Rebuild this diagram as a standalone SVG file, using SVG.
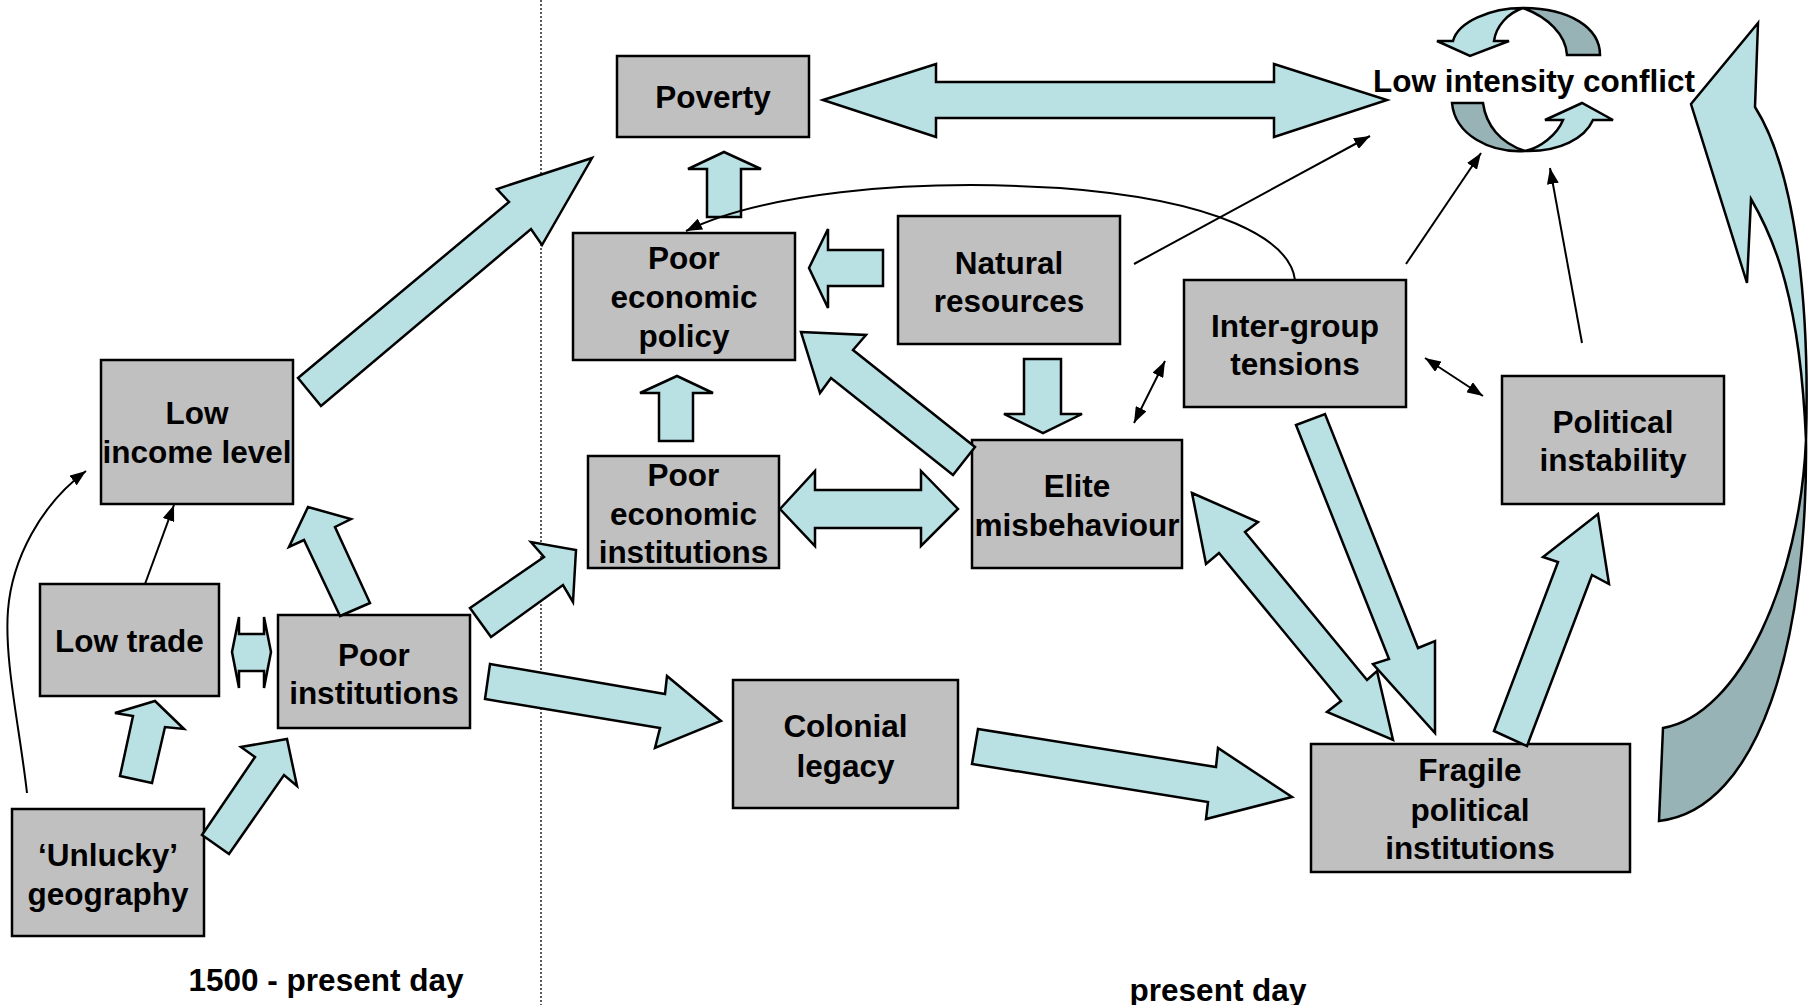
<svg xmlns="http://www.w3.org/2000/svg" width="1814" height="1005" viewBox="0 0 1814 1005">
<style>
.box{fill:#c0c0c0;stroke:#000;stroke-width:2.5}
.lbl{font-family:"Liberation Sans",Arial,Helvetica,sans-serif;font-weight:bold;font-size:31.5px;text-anchor:middle;fill:#000}
.blk{fill:#b9e0e3;stroke:#000;stroke-width:2.5;stroke-linejoin:miter}
.dk{fill:#97b3b6;stroke:#000;stroke-width:2.5;stroke-linejoin:miter}
.thin{fill:none;stroke:#000;stroke-width:2}
.sep{fill:none;stroke:#333;stroke-width:1.6;stroke-dasharray:2 2}
</style>
<defs>
<marker id="ah" viewBox="0 0 16 12" refX="16" refY="6" markerWidth="16" markerHeight="12" markerUnits="userSpaceOnUse" orient="auto-start-reverse">
<path d="M0,0 L16,6 L0,12 z" fill="#000"/>
</marker>
</defs>
<rect x="0" y="0" width="1814" height="1005" fill="#fff"/>
<line class="sep" x1="541" y1="0" x2="541" y2="1005"/>

<g id="nodes">
<g id="poverty"><rect class="box" x="617" y="56" width="192" height="81"/><text class="lbl" x="713" y="108">Poverty</text></g>
<g id="poor-economic-policy"><rect class="box" x="573" y="233" width="222" height="127"/><text class="lbl" x="684" y="269">Poor</text><text class="lbl" x="684" y="308">economic</text><text class="lbl" x="684" y="347">policy</text></g>
<g id="natural-resources"><rect class="box" x="898" y="216" width="222" height="128"/><text class="lbl" x="1009" y="274">Natural</text><text class="lbl" x="1009" y="312">resources</text></g>
<g id="inter-group-tensions"><rect class="box" x="1184" y="280" width="222" height="127"/><text class="lbl" x="1295" y="337">Inter-group</text><text class="lbl" x="1295" y="375">tensions</text></g>
<g id="political-instability"><rect class="box" x="1502" y="376" width="222" height="128"/><text class="lbl" x="1613" y="433">Political</text><text class="lbl" x="1613" y="471">instability</text></g>
<g id="elite-misbehaviour"><rect class="box" x="972" y="440" width="210" height="128"/><text class="lbl" x="1077" y="497">Elite</text><text class="lbl" x="1077" y="536">misbehaviour</text></g>
<g id="poor-economic-institutions"><rect class="box" x="588" y="456" width="191" height="112"/><text class="lbl" x="683.5" y="486">Poor</text><text class="lbl" x="683.5" y="525">economic</text><text class="lbl" x="683.5" y="563">institutions</text></g>
<g id="low-income-level"><rect class="box" x="101" y="360" width="192" height="144"/><text class="lbl" x="197" y="424">Low</text><text class="lbl" x="197" y="463">income level</text></g>
<g id="low-trade"><rect class="box" x="40" y="584" width="179" height="112"/><text class="lbl" x="129.5" y="652">Low trade</text></g>
<g id="poor-institutions"><rect class="box" x="278" y="615" width="192" height="113"/><text class="lbl" x="374" y="666">Poor</text><text class="lbl" x="374" y="704">institutions</text></g>
<g id="unlucky-geography"><rect class="box" x="12" y="809" width="192" height="127"/><text class="lbl" x="108" y="866">‘Unlucky’</text><text class="lbl" x="108" y="905">geography</text></g>
<g id="colonial-legacy"><rect class="box" x="733" y="680" width="225" height="128"/><text class="lbl" x="845.5" y="737">Colonial</text><text class="lbl" x="845.5" y="777">legacy</text></g>
<g id="fragile-political-institutions"><rect class="box" x="1311" y="744" width="319" height="128"/><text class="lbl" x="1470" y="781">Fragile</text><text class="lbl" x="1470" y="821">political</text><text class="lbl" x="1470" y="859">institutions</text></g>
</g>

<g id="connectors">
<polygon class="blk" points="298,378 509,202 497,189 592,158 542,245 531,229 321,406"/>
<polygon class="blk" points="823,100 936,64 936,82 1274,82 1274,64 1387,100 1274,137 1274,118 936,118 936,137"/>
<polygon class="blk" points="707,217 707,169 688,169 724,152 761,169 741,169 741,217"/>
<polygon class="blk" points="883,250 828,250 828,229 809,268 828,308 828,286 883,286"/>
<polygon class="blk" points="659,441 659,393 640,393 677,376 713,393 693,393 693,441"/>
<polygon class="blk" points="801,332 866,335 853,350 975,447 953,475 831,378 820,393"/>
<polygon class="blk" points="1024,359 1061,359 1061,414 1082,414 1043,433 1004,414 1024,414"/>
<polygon class="blk" points="780,509 815,471 815,490 921,490 921,471 958,509 921,546 921,528 815,528 815,546"/>
<polygon class="blk" points="490,664 665,694 667,676 721,721 655,748 660,728 485,699"/>
<polygon class="blk" points="978,729 1216,767 1218,748 1292,797 1206,819 1208,802 972,764"/>
<polygon class="blk" points="470,608 544,557 531,542 576,550 573,602 563,585 491,637"/>
<polygon class="blk" points="340,616 304,540 289,547 308,507 351,519 335,527 370,603"/>
<polygon class="blk" points="232,652 239,617 239,634 264,634 264,617 271,652 264,688 264,671 239,671 239,688"/>
<polygon class="blk" points="120,776 133,716 115,713 155,701 184,729 165,727 152,783"/>
<polygon class="blk" points="202,835 255,757 241,747 287,739 297,786 284,775 229,854"/>
<polygon class="blk" points="1192,493 1258,522 1245,532 1367,680 1377,671 1393,740 1327,712 1341,701 1219,553 1206,564"/>
<polygon class="blk" points="1296,425 1389,659 1373,664 1435,733 1435,641 1418,648 1325,414"/>
<polygon class="blk" points="1494,731 1558,562 1543,557 1598,514 1609,584 1592,575 1527,746"/>
<path class="dk" d="M1806,440 C1800,580 1740,715 1663,728 L1659,821 C1760,810 1808,640 1806,440 Z"/>
<path class="blk" d="M1758,23 L1691,104 L1747,283 L1751,199 C1775,240 1800,300 1806,440 C1810,300 1795,170 1755,107 Z"/>
<path class="thin" marker-end="url(#ah)" d="M27,793 C20,730 4,660 8,610 C12,560 40,505 86,471"/>
<path class="thin" marker-end="url(#ah)" d="M145,584 L174,505"/>
<path class="thin" marker-end="url(#ah)" d="M1134,264 L1370,136"/>
<path class="thin" marker-end="url(#ah)" d="M1295,280 C1290,240 1220,200 1060,188 C900,178 760,195 686,231"/>
<path class="thin" marker-start="url(#ah)" marker-end="url(#ah)" d="M1134,423 L1165,361"/>
<path class="thin" marker-end="url(#ah)" d="M1406,264 L1481,153"/>
<path class="thin" marker-start="url(#ah)" marker-end="url(#ah)" d="M1425,358 L1483,396"/>
<path class="thin" marker-end="url(#ah)" d="M1582,343 L1550,168"/>
</g>

<g id="low-intensity-conflict">
<path class="dk" d="M1523,8 C1570,8 1600,28 1600,55 L1567,55 C1566,35 1548,17 1523,8 Z"/>
<path class="blk" d="M1437,41 L1453,41 C1458,22 1490,8 1523,8 C1508,13 1496,26 1494,41 L1509,41 L1470,56 Z"/>
<path class="dk" d="M1452,103 L1483,103 C1486,125 1500,143 1525,151 C1490,153 1455,135 1452,103 Z"/>
<path class="blk" d="M1525,151 C1560,152 1585,138 1593,120 L1613,120 L1582,103 L1545,120 L1563,120 C1557,135 1540,148 1525,151 Z"/>
<text class="lbl" x="1534" y="92">Low intensity conflict</text>
</g>

<g id="period-labels">
<text class="lbl" x="326" y="991">1500 - present day</text>
<text class="lbl" x="1218" y="1001">present day</text>
</g>
</svg>
